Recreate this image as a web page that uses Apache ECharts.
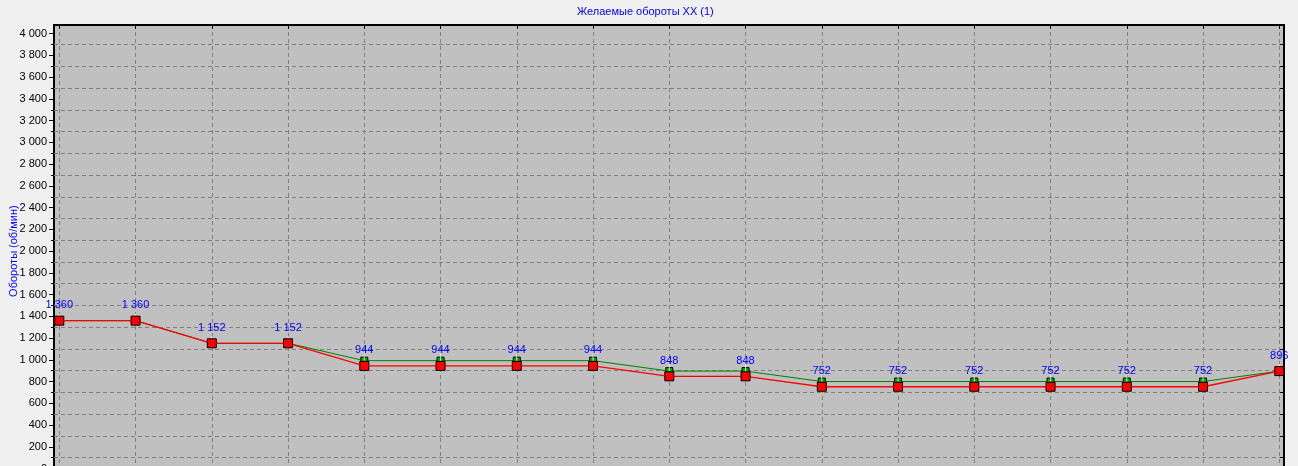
<!DOCTYPE html>
<html>
<head>
<meta charset="utf-8">
<script src="https://cdn.jsdelivr.net/npm/echarts@6/dist/echarts.min.js"></script>
<style>
html,body{margin:0;padding:0;background:#f0f0f0;}
#c{width:1298px;height:466px;}
</style>
</head>
<body>
<div id="c"></div>
<script>
// ---- data ----
const titleText = 'Желаемые обороты XX (1)';
const yAxisName = 'Обороты (об/мин)';
const categories = ['1','2','3','4','5','6','7','8','9','10','11','12','13','14','15','16','17'];
const desiredRpm = [1360,1360,1152,1152,944,944,944,944,848,848,752,752,752,752,752,752,896];
const actualRpm  = [1360,1360,1152,1152,992,992,992,992,896,896,800,800,800,800,800,800,896];
const yTickMin = 0, yTickMax = 4000, yTickStep = 200;

function fmt(v){ return String(v).replace(/\B(?=(\d{3})+(?!\d))/g, ' '); }

const font = '"Liberation Sans", Arial, sans-serif';
const gridColor = '#808080';
const dash = [4,3];
// geometry
const plotLeft = 54, plotRight = 14, plotTop = 25, plotBottom = -2.5;
const tickTop = 33.7;
const pxPerUnit = (466 - plotBottom - tickTop) / yTickMax;
const dataMax = (466 - plotBottom - plotTop) / pxPerUnit;

const chart = echarts.init(document.getElementById('c'), null, {renderer:'canvas'});
const option = {
  backgroundColor: '#f0f0f0',
  animation: false,
  title: {
    text: titleText, left: 577, top: 6, padding: 0,
    textStyle: {color:'#0000ff', fontSize:11, fontWeight:'normal', fontFamily:font}
  },
  grid: [
    {left:plotLeft, right:plotRight, top:plotTop, bottom:plotBottom, show:true, containLabel:false, outerBoundsMode:'none',
     backgroundColor:'#c0c0c0', borderColor:'#000', borderWidth:2, z:0},
    {left:plotLeft, right:plotRight, top:tickTop, bottom:plotBottom, show:false, containLabel:false, outerBoundsMode:'none'},
    {left:59.3, right:18.7, top:plotTop, bottom:plotBottom, show:false, containLabel:false, outerBoundsMode:'none'}
  ],
  xAxis: [
    {gridIndex:0, type:'value', min:0, max:1, show:false},
    {gridIndex:1, type:'value', min:0, max:1, show:false},
    {gridIndex:2, type:'category', data:categories, boundaryGap:false, position:'bottom', z:2,
     axisLine:{show:false}, axisTick:{show:false}, axisLabel:{show:false},
     splitLine:{show:true, lineStyle:{color:gridColor, type:dash, width:1}}},
    {gridIndex:2, type:'category', data:categories, boundaryGap:false, position:'top', z:2,
     axisLine:{show:false}, axisTick:{show:true, inside:true, length:4, lineStyle:{color:'#000'}},
     axisLabel:{show:false}, splitLine:{show:false}}
  ],
  yAxis: [
    {gridIndex:0, type:'value', min:0, max:1, show:false},
    {gridIndex:1, type:'value', min:yTickMin, max:yTickMax, interval:yTickStep, position:'left', z:2,
     name:yAxisName, nameLocation:'middle', nameGap:35, nameMoveOverlap:false,
     nameTextStyle:{color:'#0000ff', fontSize:11, fontFamily:font},
     axisLine:{show:false},
     axisTick:{show:true, length:5, lineStyle:{color:'#000'}},
     minorTick:{show:true, splitNumber:2, length:3, lineStyle:{color:'#000'}},
     splitLine:{show:false},
     minorSplitLine:{show:true, lineStyle:{color:gridColor, type:dash, width:1}},
     axisLabel:{color:'#000', fontSize:11, fontFamily:font, margin:7, formatter:v => fmt(v)}},
    {gridIndex:1, type:'value', min:yTickMin, max:yTickMax, interval:yTickStep, position:'right', z:2,
     axisLine:{show:false}, axisTick:{show:false, inside:true},
     minorTick:{show:true, splitNumber:2, length:4, lineStyle:{color:'#000'}},
     axisLabel:{show:false}, splitLine:{show:false}},
    {gridIndex:2, type:'value', min:0, max:dataMax, show:false}
  ],
  series: [
    {type:'line', name:'actual', xAxisIndex:2, yAxisIndex:3, data:actualRpm, z:3, clip:false,
     symbol:'rect', symbolSize:7, lineStyle:{color:'#008000', width:1},
     itemStyle:{color:'#00b000', borderColor:'#000', borderWidth:1}},
    {type:'scatter', name:'tickA', xAxisIndex:2, yAxisIndex:3, data:actualRpm, z:4, silent:true,
     symbol:'rect', symbolSize:[1,7], symbolOffset:[0,-3.5], itemStyle:{color:'#ffffff'}},
    {type:'line', name:'desired', xAxisIndex:2, yAxisIndex:3, data:desiredRpm, z:5, clip:false,
     symbol:'rect', symbolSize:9, lineStyle:{color:'#ff0000', width:1.3},
     itemStyle:{color:'#ff0000', borderColor:'#000', borderWidth:1},
     label:{show:true, position:'top', distance:5, color:'#0000ff', fontSize:11, fontFamily:font,
            formatter:p => fmt(p.value)}}
  ]
};
chart.setOption(option);
</script>
</body>
</html>
